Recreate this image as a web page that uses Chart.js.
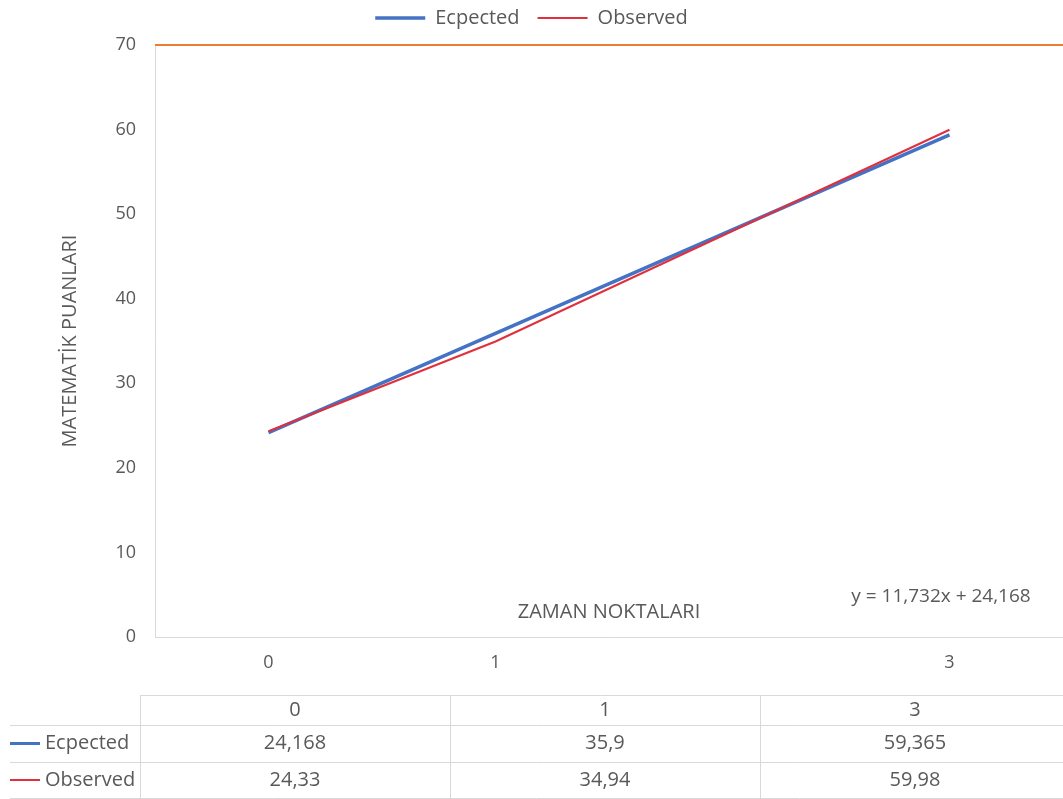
<!DOCTYPE html>
<html>
<head>
<meta charset="utf-8">
<script src="https://cdn.jsdelivr.net/npm/chart.js@4.4.1/dist/chart.umd.min.js"></script>
<style>
  html, body { margin: 0; padding: 0; background: #ffffff; }
  #wrap { width: 1063px; height: 799px; position: relative; }
</style>
</head>
<body>
<div id="wrap"><canvas id="c" width="1063" height="799"></canvas></div>
<script>
// Time points (x) and the two score series
const timePoints = [0, 1, 3];
const timeLabels = ['0', '1', '3'];
const expectedValues = [24.168, 35.9, 59.365];
const observedValues = [24.33, 34.94, 59.98];
// Reference line at the top of the score range
const targetX = [-0.5, 3.5];
const targetY = [70, 70];
// Linear trend of the expected series
const trendSlope = 11.732;
const trendIntercept = 24.168;
const yTicks = [0, 10, 20, 30, 40, 50, 60, 70];

const seriesNames = ['Ecpected', 'Observed'];
const FONT = '"Open Sans", "Noto Sans", sans-serif';
const TEXT = '#595959';
const RULE = '#d9d9d9';
const BLUE = '#4472c4';
const RED = '#e0303c';
const ORANGE = '#ed7d31';

const fmt = v => String(v).replace('.', ',');
const toPoints = (xs, ys) => xs.map((x, i) => ({ x: x, y: ys[i] }));

// Fixed height for the legend band above the plot
const LEGEND_BAND = 55;
const legendBandPlugin = {
  id: 'legendBand',
  beforeLayout(chart) {
    const lg = chart.legend;
    if (lg && !lg.$banded) {
      const fit = lg.fit;
      lg.fit = function () { fit.call(this); this.height = LEGEND_BAND; };
      lg.$banded = true;
    }
  }
};

// Axis title inside the plot, trend equation and the data table under the chart
const extrasPlugin = {
  id: 'extras',
  afterDraw(chart) {
    const ctx = chart.ctx;
    const area = chart.chartArea;
    ctx.save();
    ctx.fillStyle = TEXT;
    ctx.textBaseline = 'middle';
    ctx.textAlign = 'center';
    ctx.font = '20px ' + FONT;
    ctx.fillText('ZAMAN NOKTALARI', 609, area.bottom - 25);
    ctx.font = '19px ' + FONT;
    ctx.fillText('y = ' + fmt(trendSlope) + 'x + ' + fmt(trendIntercept), 941, area.bottom - 40);

    // data table
    const tLeft = 140, colW = 310, right = chart.width;
    const rows = [695, 725, 762, 798];
    ctx.strokeStyle = RULE;
    ctx.lineWidth = 1;
    ctx.beginPath();
    ctx.moveTo(tLeft, rows[0] + 0.5); ctx.lineTo(right, rows[0] + 0.5);
    for (let r = 1; r < rows.length; r++) {
      ctx.moveTo(10, rows[r] + 0.5); ctx.lineTo(right, rows[r] + 0.5);
    }
    for (let c = 0; c < timeLabels.length; c++) {
      const x = tLeft + c * colW + 0.5;
      ctx.moveTo(x, rows[0]); ctx.lineTo(x, rows[3]);
    }
    ctx.stroke();

    const series = [
      { name: seriesNames[0], vals: expectedValues, color: BLUE, w: 3 },
      { name: seriesNames[1], vals: observedValues, color: RED, w: 2 }
    ];
    ctx.font = '20px ' + FONT;
    ctx.textAlign = 'center';
    timeLabels.forEach((t, c) => {
      ctx.fillText(t, tLeft + c * colW + colW / 2, (rows[0] + rows[1]) / 2);
    });
    series.forEach((s, r) => {
      const cy = (rows[r + 1] + rows[r + 2]) / 2;
      ctx.strokeStyle = s.color;
      ctx.lineWidth = s.w;
      ctx.beginPath();
      ctx.moveTo(10, cy); ctx.lineTo(40, cy);
      ctx.stroke();
      ctx.textAlign = 'left';
      ctx.fillText(s.name, 45, cy);
      ctx.textAlign = 'center';
      s.vals.forEach((v, c) => {
        ctx.fillText(fmt(v), tLeft + c * colW + colW / 2, cy);
      });
    });
    ctx.restore();
  }
};

new Chart(document.getElementById('c'), {
  type: 'scatter',
  data: {
    datasets: [
      {
        label: seriesNames[0],
        data: toPoints(timePoints, expectedValues),
        showLine: true,
        borderColor: BLUE,
        backgroundColor: BLUE,
        borderWidth: 3.5,
        pointRadius: 0,
        order: 2
      },
      {
        label: seriesNames[1],
        data: toPoints(timePoints, observedValues),
        showLine: true,
        borderColor: RED,
        backgroundColor: RED,
        borderWidth: 2,
        pointRadius: 0,
        order: 1
      },
      {
        label: 'ref',
        data: toPoints(targetX, targetY),
        showLine: true,
        borderColor: ORANGE,
        backgroundColor: ORANGE,
        borderWidth: 2,
        pointRadius: 0,
        clip: false,
        order: 0
      }
    ]
  },
  options: {
    responsive: false,
    animation: false,
    layout: { padding: { top: -10, left: 0, right: 0, bottom: 0 } },
    plugins: {
      tooltip: { enabled: false },
      legend: {
        position: 'top',
        labels: {
          color: TEXT,
          font: { family: FONT, size: 20 },
          usePointStyle: true,
          pointStyleWidth: 50,
          boxHeight: 10,
          padding: 18,
          filter: item => item.datasetIndex < 2,
          generateLabels: chart => chart.data.datasets.map((ds, i) => ({
            text: ds.label,
            datasetIndex: i,
            fillStyle: ds.borderColor,
            strokeStyle: ds.borderColor,
            lineWidth: ds.borderWidth,
            pointStyle: 'line',
            fontColor: TEXT,
            hidden: false
          }))
        }
      }
    },
    scales: {
      x: {
        type: 'linear',
        min: -0.5,
        max: 3.5,
        afterFit: s => { s.height = 162; },
        afterBuildTicks: s => { s.ticks = timePoints.map(v => ({ value: v })); },
        grid: { display: false, drawTicks: false },
        border: { display: true, color: RULE, width: 1 },
        ticks: {
          color: TEXT,
          font: { family: FONT, size: 18 },
          padding: 15,
          autoSkip: false,
          maxRotation: 0,
          callback: v => timeLabels[timePoints.indexOf(v)]
        }
      },
      y: {
        min: 0,
        max: 70,
        afterFit: s => { s.width = 155; },
        afterBuildTicks: s => { s.ticks = yTicks.map(v => ({ value: v })); },
        grid: { display: false, drawTicks: false },
        border: { display: true, color: RULE, width: 1 },
        ticks: {
          color: TEXT,
          font: { family: FONT, size: 18 },
          padding: 19
        },
        title: {
          display: true,
          text: 'MATEMATİK PUANLARI',
          color: TEXT,
          font: { family: FONT, size: 20 },
          padding: { top: 58, bottom: 0 }
        }
      }
    }
  },
  plugins: [legendBandPlugin, extrasPlugin]
});
</script>
</body>
</html>
